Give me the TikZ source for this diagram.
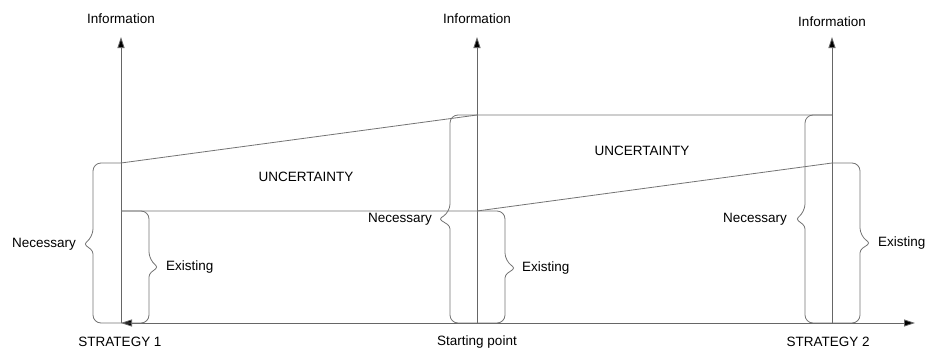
\documentclass[tikz,border=0pt]{standalone}
\usepackage{fontspec}
\setmainfont{Liberation Sans}
\usetikzlibrary{arrows.meta}
\begin{document}
\begin{tikzpicture}[x=1pt,y=-1pt,
  ln/.style={draw=black!55,line width=0.8pt},
  axis/.style={draw=black!60,line width=0.8pt,-{Triangle[length=11pt,width=7pt,fill=black]}},
  haxis/.style={draw=black!60,line width=0.8pt,{Triangle[length=11pt,width=7pt,fill=black]}-{Triangle[length=11pt,width=7pt,fill=black]}},
  brace/.style={draw=black!55,line width=0.8pt},
  lbl/.style={font=\fontsize{13.5}{16}\selectfont,inner sep=0pt}]
\useasboundingbox (0,0) rectangle (928,351);
% axis coordinates
\coordinate (b1) at (121,323);
\coordinate (t1) at (121,37);
\coordinate (b2) at (477,323);
\coordinate (t2) at (477,37);
\coordinate (b3) at (832,323);
\coordinate (t3) at (832,37);
\coordinate (hx) at (915,323);
% levels
\coordinate (n1) at (121,163);
\coordinate (e1) at (121,211);
\coordinate (n2) at (477,115);
\coordinate (e2) at (477,211);
\coordinate (n3) at (832,115);
\coordinate (e3) at (832,163);
% axes
\draw[axis] (b1) -- (t1);
\draw[axis] (b2) -- (t2);
\draw[axis] (b3) -- (t3);
\draw[haxis] (b1) -- (hx);
% level lines
\draw[ln] (n1) -- (n2) -- (n3);
\draw[ln] (e1) -- (e2) -- (e3);
% braces: strategy 1
\draw[brace,rounded corners=8pt] (n1) -- (93,163) -- (93,237) [rounded corners=3pt] -- (84,244) -- (93,251) [rounded corners=8pt] -- (93,323) -- (b1);
\draw[brace,rounded corners=8pt] (e1) -- (149,211) -- (149,260) [rounded corners=3pt] -- (158,267) -- (149,274) [rounded corners=8pt] -- (149,323) -- (b1);
% braces: starting point
\draw[brace,rounded corners=8pt] (n2) -- (450,115) -- (450,212) [rounded corners=3pt] -- (439,219) -- (450,226) [rounded corners=8pt] -- (450,323) -- (b2);
\draw[brace,rounded corners=8pt] (e2) -- (505,211) -- (505,261) [rounded corners=3pt] -- (515,268) -- (505,275) [rounded corners=8pt] -- (505,323) -- (b2);
% braces: strategy 2
\draw[brace,rounded corners=8pt] (n3) -- (805,115) -- (805,212) [rounded corners=3pt] -- (796,219) -- (805,226) [rounded corners=8pt] -- (805,323) -- (b3);
\draw[brace,rounded corners=8pt] (e3) -- (860,163) -- (860,236) [rounded corners=3pt] -- (870,243) -- (860,250) [rounded corners=8pt] -- (860,323) -- (b3);
% labels
\node[lbl] (i1) at (121,19) {Information};
\node[lbl] (i2) at (477,19) {Information};
\node[lbl] (i3) at (832,22) {Information};
\node[lbl] (s1) at (120,342) {STRATEGY 1};
\node[lbl] (sp) at (477,342) {Starting point};
\node[lbl] (s2) at (828,342) {STRATEGY 2};
\node[lbl] (u1) at (306,177) {UNCERTAINTY};
\node[lbl] (u2) at (642,151) {UNCERTAINTY};
\node[lbl,anchor=east] (nec1) at (76,244) {Necessary};
\node[lbl,anchor=east] (nec2) at (432,219) {Necessary};
\node[lbl,anchor=east] (nec3) at (787,219) {Necessary};
\node[lbl,anchor=west] (ex1) at (166,267) {Existing};
\node[lbl,anchor=west] (ex2) at (522,268) {Existing};
\node[lbl,anchor=west] (ex3) at (878,243) {Existing};
\end{tikzpicture}
\end{document}
